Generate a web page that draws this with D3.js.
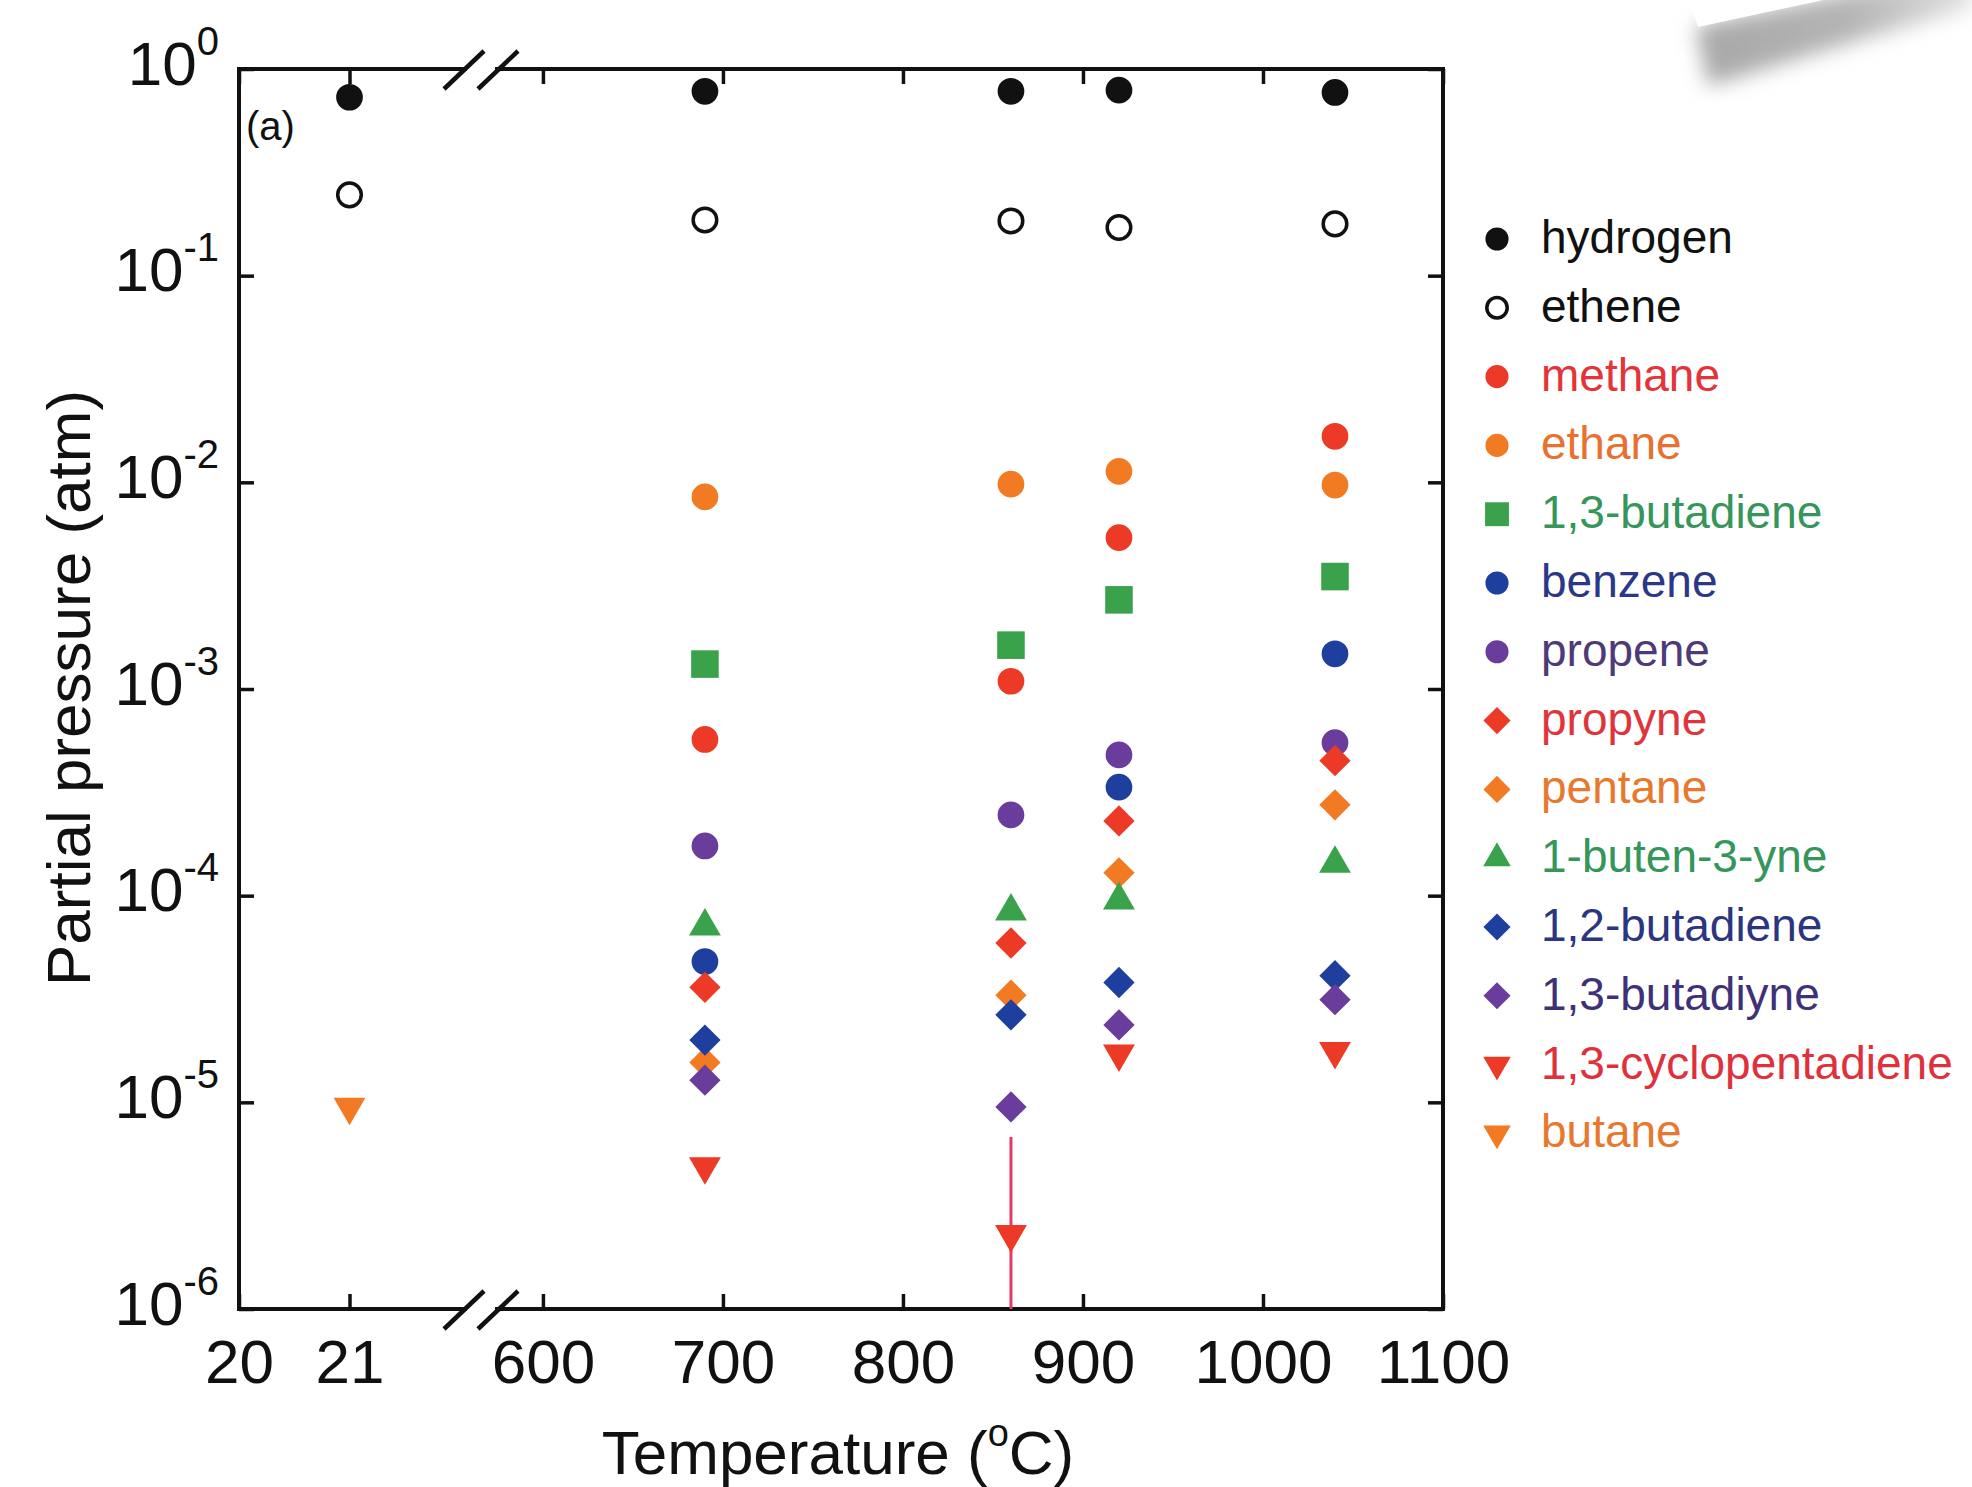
<!DOCTYPE html>
<html>
<head>
<meta charset="utf-8">
<script src="https://cdn.jsdelivr.net/npm/d3@7"></script>
<style>
  body { margin: 0; background: #fff; }
  svg { display: block; font-family: "Liberation Sans", Arial, sans-serif; }
</style>
</head>
<body>
<div id="chart"></div>
<script>
const temps = [21, 690, 860, 920, 1040];

const hydrogen = [0.73, 0.78, 0.78, 0.79, 0.77];
const ethene = [0.246, 0.186, 0.184, 0.171, 0.178];
const methane = [null, 5.7e-4, 1.09e-3, 5.4e-3, 1.67e-2];
const ethane = [null, 8.5e-3, 9.8e-3, 1.13e-2, 9.7e-3];
const butadiene13 = [null, 1.32e-3, 1.63e-3, 2.7e-3, 3.5e-3];
const benzene = [null, 4.8e-5, null, 3.35e-4, 1.48e-3];
const propene = [null, 1.74e-4, 2.46e-4, 4.8e-4, 5.5e-4];
const propyne = [null, 3.6e-5, 5.9e-5, 2.3e-4, 4.5e-4];
const pentane = [null, 1.56e-5, 3.3e-5, 1.29e-4, 2.75e-4];
const butenyne = [null, 7.1e-5, 8.4e-5, 9.5e-5, 1.43e-4];
const butadiene12 = [null, 2.0e-5, 2.65e-5, 3.8e-5, 4.1e-5];
const butadiyne = [null, 1.28e-5, 9.5e-6, 2.37e-5, 3.14e-5];
const cyclopentadiene = [null, 4.9e-6, 2.3e-6, 1.72e-5, 1.77e-5];
const butane = [9.5e-6, null, null, null, null];

// error bar on 1,3-cyclopentadiene at 860 C
const errorBar = { temp: 860, hi: 6.8e-6, lo: 1e-6 };

const leftDomain = [20, 22.19];
const rightDomain = [565.6, 1100];
const xTicks = [20, 21, 600, 700, 800, 900, 1000, 1100];
const yTicks = [1e0, 1e-1, 1e-2, 1e-3, 1e-4, 1e-5, 1e-6];

const series = [
  { name: "hydrogen", values: hydrogen, shape: "circle", fill: "#111", text: "#111" },
  { name: "ethene", values: ethene, shape: "open", fill: "#111", text: "#111" },
  { name: "methane", values: methane, shape: "circle", fill: "#ec3a26", text: "#e5333a" },
  { name: "ethane", values: ethane, shape: "circle", fill: "#f27a22", text: "#ea7030" },
  { name: "1,3-butadiene", values: butadiene13, shape: "square", fill: "#3ba24c", text: "#35955a" },
  { name: "benzene", values: benzene, shape: "circle", fill: "#1f3f9e", text: "#2b3788" },
  { name: "propene", values: propene, shape: "circle", fill: "#6a3d9c", text: "#4e3a78" },
  { name: "propyne", values: propyne, shape: "diamond", fill: "#ec3a26", text: "#e0343c" },
  { name: "pentane", values: pentane, shape: "diamond", fill: "#f27a22", text: "#e8782e" },
  { name: "1-buten-3-yne", values: butenyne, shape: "triangle", fill: "#3ba24c", text: "#35955a" },
  { name: "1,2-butadiene", values: butadiene12, shape: "diamond", fill: "#1f3f9e", text: "#2b3580" },
  { name: "1,3-butadiyne", values: butadiyne, shape: "diamond", fill: "#6a3d9c", text: "#3f3178" },
  { name: "1,3-cyclopentadiene", values: cyclopentadiene, shape: "down", fill: "#ec3a26", text: "#e0303c" },
  { name: "butane", values: butane, shape: "down", fill: "#f27a22", text: "#e8782e" }
];

const W = 1972, H = 1487;
const plot = { left: 239, right: 1443, top: 69, bottom: 1309 };

const svg = d3.select("#chart").append("svg")
  .attr("width", W)
  .attr("height", H);

// pasted-page shadow in the top right corner
const defs = svg.append("defs");
defs.append("filter").attr("id", "blur")
  .attr("x", "-50%").attr("y", "-50%").attr("width", "200%").attr("height", "200%")
  .append("feGaussianBlur").attr("stdDeviation", 10);
const grad = defs.append("linearGradient").attr("id", "shade")
  .attr("x1", 0).attr("x2", 1).attr("y1", 0).attr("y2", 0);
grad.append("stop").attr("offset", 0).attr("stop-color", "#a8a8a8");
grad.append("stop").attr("offset", 0.55).attr("stop-color", "#b4b4b4");
grad.append("stop").attr("offset", 1).attr("stop-color", "#e2e2e2");
svg.append("path")
  .attr("d", "M1696,26 L1972,-34 L1972,8 L1860,40 L1708,86 Z")
  .attr("fill", "url(#shade)")
  .attr("filter", "url(#blur)");
svg.append("path")
  .attr("d", "M1686,-10 L1698,27 L1972,-32 L1972,-10 Z")
  .attr("fill", "#fff");

const x = d3.scaleLinear()
  .domain([leftDomain[0], leftDomain[1], rightDomain[0], rightDomain[1]])
  .range([plot.left, 481, 481, plot.right]);

const y = d3.scaleLog()
  .domain([1e-6, 1])
  .range([plot.bottom, plot.top]);

const tickLen = 15;

const axisB = svg.append("g")
  .attr("transform", `translate(0,${plot.bottom})`)
  .call(d3.axisBottom(x).tickValues(xTicks).tickSize(-tickLen).tickFormat(""));
const axisT = svg.append("g")
  .attr("transform", `translate(0,${plot.top})`)
  .call(d3.axisTop(x).tickValues(xTicks).tickSize(-tickLen).tickFormat(""));
const axisL = svg.append("g")
  .attr("transform", `translate(${plot.left},0)`)
  .call(d3.axisLeft(y).tickValues(yTicks).tickSize(-tickLen).tickFormat(""));
const axisR = svg.append("g")
  .attr("transform", `translate(${plot.right},0)`)
  .call(d3.axisRight(y).tickValues(yTicks).tickSize(-tickLen).tickFormat(""));

[axisB, axisT, axisL, axisR].forEach((g) => {
  g.select(".domain").remove();
  g.selectAll(".tick line").attr("stroke", "#111").attr("stroke-width", 3.5);
});

axisB.selectAll(".tick").append("text")
  .attr("y", 74)
  .attr("fill", "#111")
  .attr("font-size", 62)
  .attr("text-anchor", "middle")
  .text((d) => d);

axisL.selectAll(".tick").each(function (d) {
  const t = d3.select(this).append("text")
    .attr("x", -20)
    .attr("y", 15)
    .attr("fill", "#111")
    .attr("font-size", 62)
    .attr("text-anchor", "end");
  t.append("tspan").text("10");
  t.append("tspan")
    .attr("dy", -30)
    .attr("font-size", 40)
    .text(Math.round(Math.log10(d)) === 0 ? "0" : Math.round(Math.log10(d)));
});

// frame
svg.append("rect")
  .attr("x", plot.left)
  .attr("y", plot.top)
  .attr("width", plot.right - plot.left)
  .attr("height", plot.bottom - plot.top)
  .attr("fill", "none")
  .attr("stroke", "#111")
  .attr("stroke-width", 4);

// axis break marks
const breakX = x(leftDomain[1]);
[plot.top, plot.bottom].forEach((yy) => {
  svg.append("line")
    .attr("x1", breakX - 14).attr("x2", breakX + 14)
    .attr("y1", yy).attr("y2", yy)
    .attr("stroke", "#fff").attr("stroke-width", 8);
  [-17, 17].forEach((off) => {
    svg.append("line")
      .attr("x1", breakX + off - 20).attr("y1", yy + 20)
      .attr("x2", breakX + off + 20).attr("y2", yy - 18)
      .attr("stroke", "#111").attr("stroke-width", 4.5);
  });
});

svg.append("text")
  .attr("x", 246)
  .attr("y", 140)
  .attr("font-size", 40)
  .attr("fill", "#111")
  .text("(a)");

// error bar
svg.append("line")
  .attr("x1", x(errorBar.temp)).attr("x2", x(errorBar.temp))
  .attr("y1", y(errorBar.hi)).attr("y2", y(errorBar.lo))
  .attr("stroke", "#e23a6a")
  .attr("stroke-width", 3);

const symbolPath = (shape, scale) => {
  if (shape === "circle" || shape === "open") return d3.symbol(d3.symbolCircle, 560 * scale)();
  if (shape === "square") return d3.symbol(d3.symbolSquare, 760 * scale)();
  if (shape === "diamond") return d3.symbol(d3.symbolSquare, 490 * scale)();
  return d3.symbol(d3.symbolTriangle, 440 * scale)();
};
const symbolRotate = (shape) => shape === "diamond" ? 45 : shape === "down" ? 180 : 0;

const drawMarker = (g, s, cx, cy, scale) => {
  const open = s.shape === "open";
  const sc = open ? scale * 0.78 : scale;
  g.append("path")
    .attr("d", symbolPath(s.shape, sc))
    .attr("transform", `translate(${cx},${cy}) rotate(${symbolRotate(s.shape)})`)
    .attr("fill", open ? "#fff" : s.fill)
    .attr("stroke", open ? s.fill : "none")
    .attr("stroke-width", open ? 3.5 : 0);
};

const marks = svg.append("g");
series.forEach((s) => {
  s.values.forEach((v, i) => {
    if (v === null) return;
    drawMarker(marks, s, x(temps[i]), y(v), 1);
  });
});

// axis titles
svg.append("text")
  .attr("x", 838)
  .attr("y", 1474)
  .attr("text-anchor", "middle")
  .attr("font-size", 62)
  .attr("fill", "#111")
  .call((t) => {
    t.append("tspan").text("Temperature (");
    t.append("tspan").attr("dy", -28).attr("font-size", 38).text("o");
    t.append("tspan").attr("dy", 28).text("C)");
  });

svg.append("text")
  .attr("transform", "translate(90,688) rotate(-90)")
  .attr("text-anchor", "middle")
  .attr("font-size", 62)
  .attr("fill", "#111")
  .text("Partial pressure (atm)");

// legend
const legend = svg.append("g");
series.forEach((s, i) => {
  const ly = 239 + i * 68.8;
  drawMarker(legend, s, 1497, ly, 0.75);
  legend.append("text")
    .attr("x", 1541)
    .attr("y", ly + 14)
    .attr("font-size", 46)
    .attr("fill", s.text)
    .text(s.name);
});
</script>
</body>
</html>
